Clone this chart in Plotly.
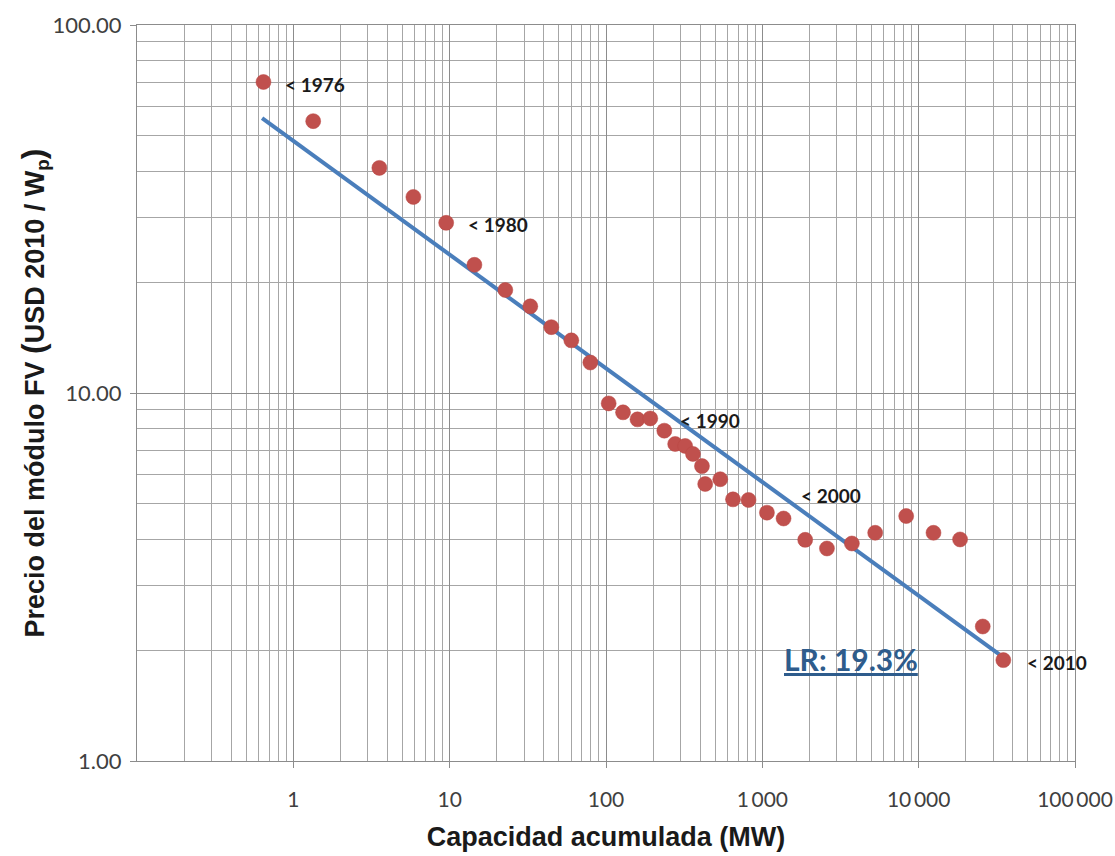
import math
import plotly.graph_objects as go

# Data
capacity_mw = [0.644, 1.34, 3.55, 5.86, 9.5, 14.4, 22.7, 32.8, 44.7, 60.0, 79.4,
               104, 128.5, 159, 192, 236, 277, 321, 360, 411, 431, 538, 649, 816,
               1070, 1367, 1880, 2590, 3740, 5270, 8320, 12440, 18400, 25700, 34800]
price_usd = [70.0, 54.8, 40.9, 34.1, 29.0, 22.3, 19.05, 17.2, 15.1, 13.9, 12.1,
             9.37, 8.86, 8.48, 8.53, 7.90, 7.27, 7.18, 6.83, 6.33, 5.66, 5.83, 5.14, 5.12,
             4.73, 4.56, 3.99, 3.78, 3.90, 4.17, 4.63, 4.17, 4.00, 2.32, 1.88]

trend_x = [0.631, 32800]
trend_y = [55.8, 1.95]

year_labels = ["&lt; 1976", "&lt; 1980", "&lt; 1990", "&lt; 2000", "&lt; 2010"]
year_label_idx = [0, 4, 14, 25, 34]
year_label_shift = [(20, -2), (20, -2), (28, -2), (15, 23), (22, -2)]

x_tickvals = [1, 10, 100, 1000, 10000, 100000]
x_ticktext = ["1", "10", "100", "1\u2009000", "10\u2009000", "100\u2009000"]
y_tickvals = [1, 10, 100]
y_ticktext = ["1.00", "10.00", "100.00"]

minor_x = [m * 10 ** e for e in range(-1, 5) for m in range(2, 10)]
minor_y = [m * 10 ** e for e in range(0, 2) for m in range(2, 10)]

GRID = "#a6a6a6"
fig = go.Figure()
fig.add_trace(go.Scatter(x=trend_x, y=trend_y, mode="lines",
                         line=dict(color="#4a7ebb", width=4), showlegend=False))
fig.add_trace(go.Scatter(x=capacity_mw, y=price_usd, mode="markers",
                         marker=dict(color="#c0504d", size=15,
                                     line=dict(color="#b94642", width=0.5)),
                         showlegend=False))

# annotations on log axes are positioned in log10 units
for lab, idx, (dx, dy) in zip(year_labels, year_label_idx, year_label_shift):
    fig.add_annotation(x=math.log10(capacity_mw[idx]), y=math.log10(price_usd[idx]),
                       xref="x", yref="y",
                       text="<b>" + lab + "</b>", showarrow=False,
                       xanchor="left", yanchor="middle", xshift=dx, yshift=dy,
                       font=dict(family="Lato", size=19, color="#1a1a1a"))

fig.add_annotation(x=0.6875, y=0.139, xref="paper", yref="paper",
                   text="<b><u>LR: 19.3%</u></b>", showarrow=False,
                   xanchor="left", yanchor="middle",
                   font=dict(family="Lato", size=30, color="#2e5c8c"))

y_title = ('<b>Precio del módulo FV <span style="font-size:32px">(</span>'
           'USD 2010 / W<sub>p</sub><span style="font-size:32px">)</span></b>')

fig.update_xaxes(type="log", range=[-1, 5], tickvals=x_tickvals, ticktext=x_ticktext,
                 showgrid=True, gridcolor="#8c8c8c", gridwidth=1.2,
                 showline=True, linecolor="#8c8c8c", linewidth=1.2, mirror=True,
                 ticks="outside", ticklen=6, tickcolor="#8c8c8c",
                 ticklabelstandoff=14, automargin=False,
                 tickfont=dict(family="Lato", size=21, color="#404040"),
                 minor=dict(tickvals=minor_x, showgrid=True, gridcolor=GRID, gridwidth=1, ticks=""),
                 title=dict(text="<b>Capacidad acumulada (MW)</b>", standoff=16,
                            font=dict(family="Liberation Sans", size=27, color="#1a1a1a")),
                 zeroline=False)
fig.update_yaxes(type="log", range=[0, 2], tickvals=y_tickvals, ticktext=y_ticktext,
                 showgrid=True, gridcolor="#8c8c8c", gridwidth=1.2,
                 showline=True, linecolor="#8c8c8c", linewidth=1.2, mirror=True,
                 ticks="outside", ticklen=6, tickcolor="#8c8c8c",
                 ticklabelstandoff=4, automargin=False,
                 tickfont=dict(family="Lato", size=22, color="#404040"),
                 minor=dict(tickvals=minor_y, showgrid=True, gridcolor=GRID, gridwidth=1, ticks=""),
                 title=dict(text=y_title, standoff=0,
                            font=dict(family="Liberation Sans", size=27, color="#1a1a1a")),
                 zeroline=False)

fig.update_layout(width=1115, height=856, paper_bgcolor="white", plot_bgcolor="white",
                  margin=dict(l=137, r=40, t=25, b=95), showlegend=False)

fig.write_html("out.html")
